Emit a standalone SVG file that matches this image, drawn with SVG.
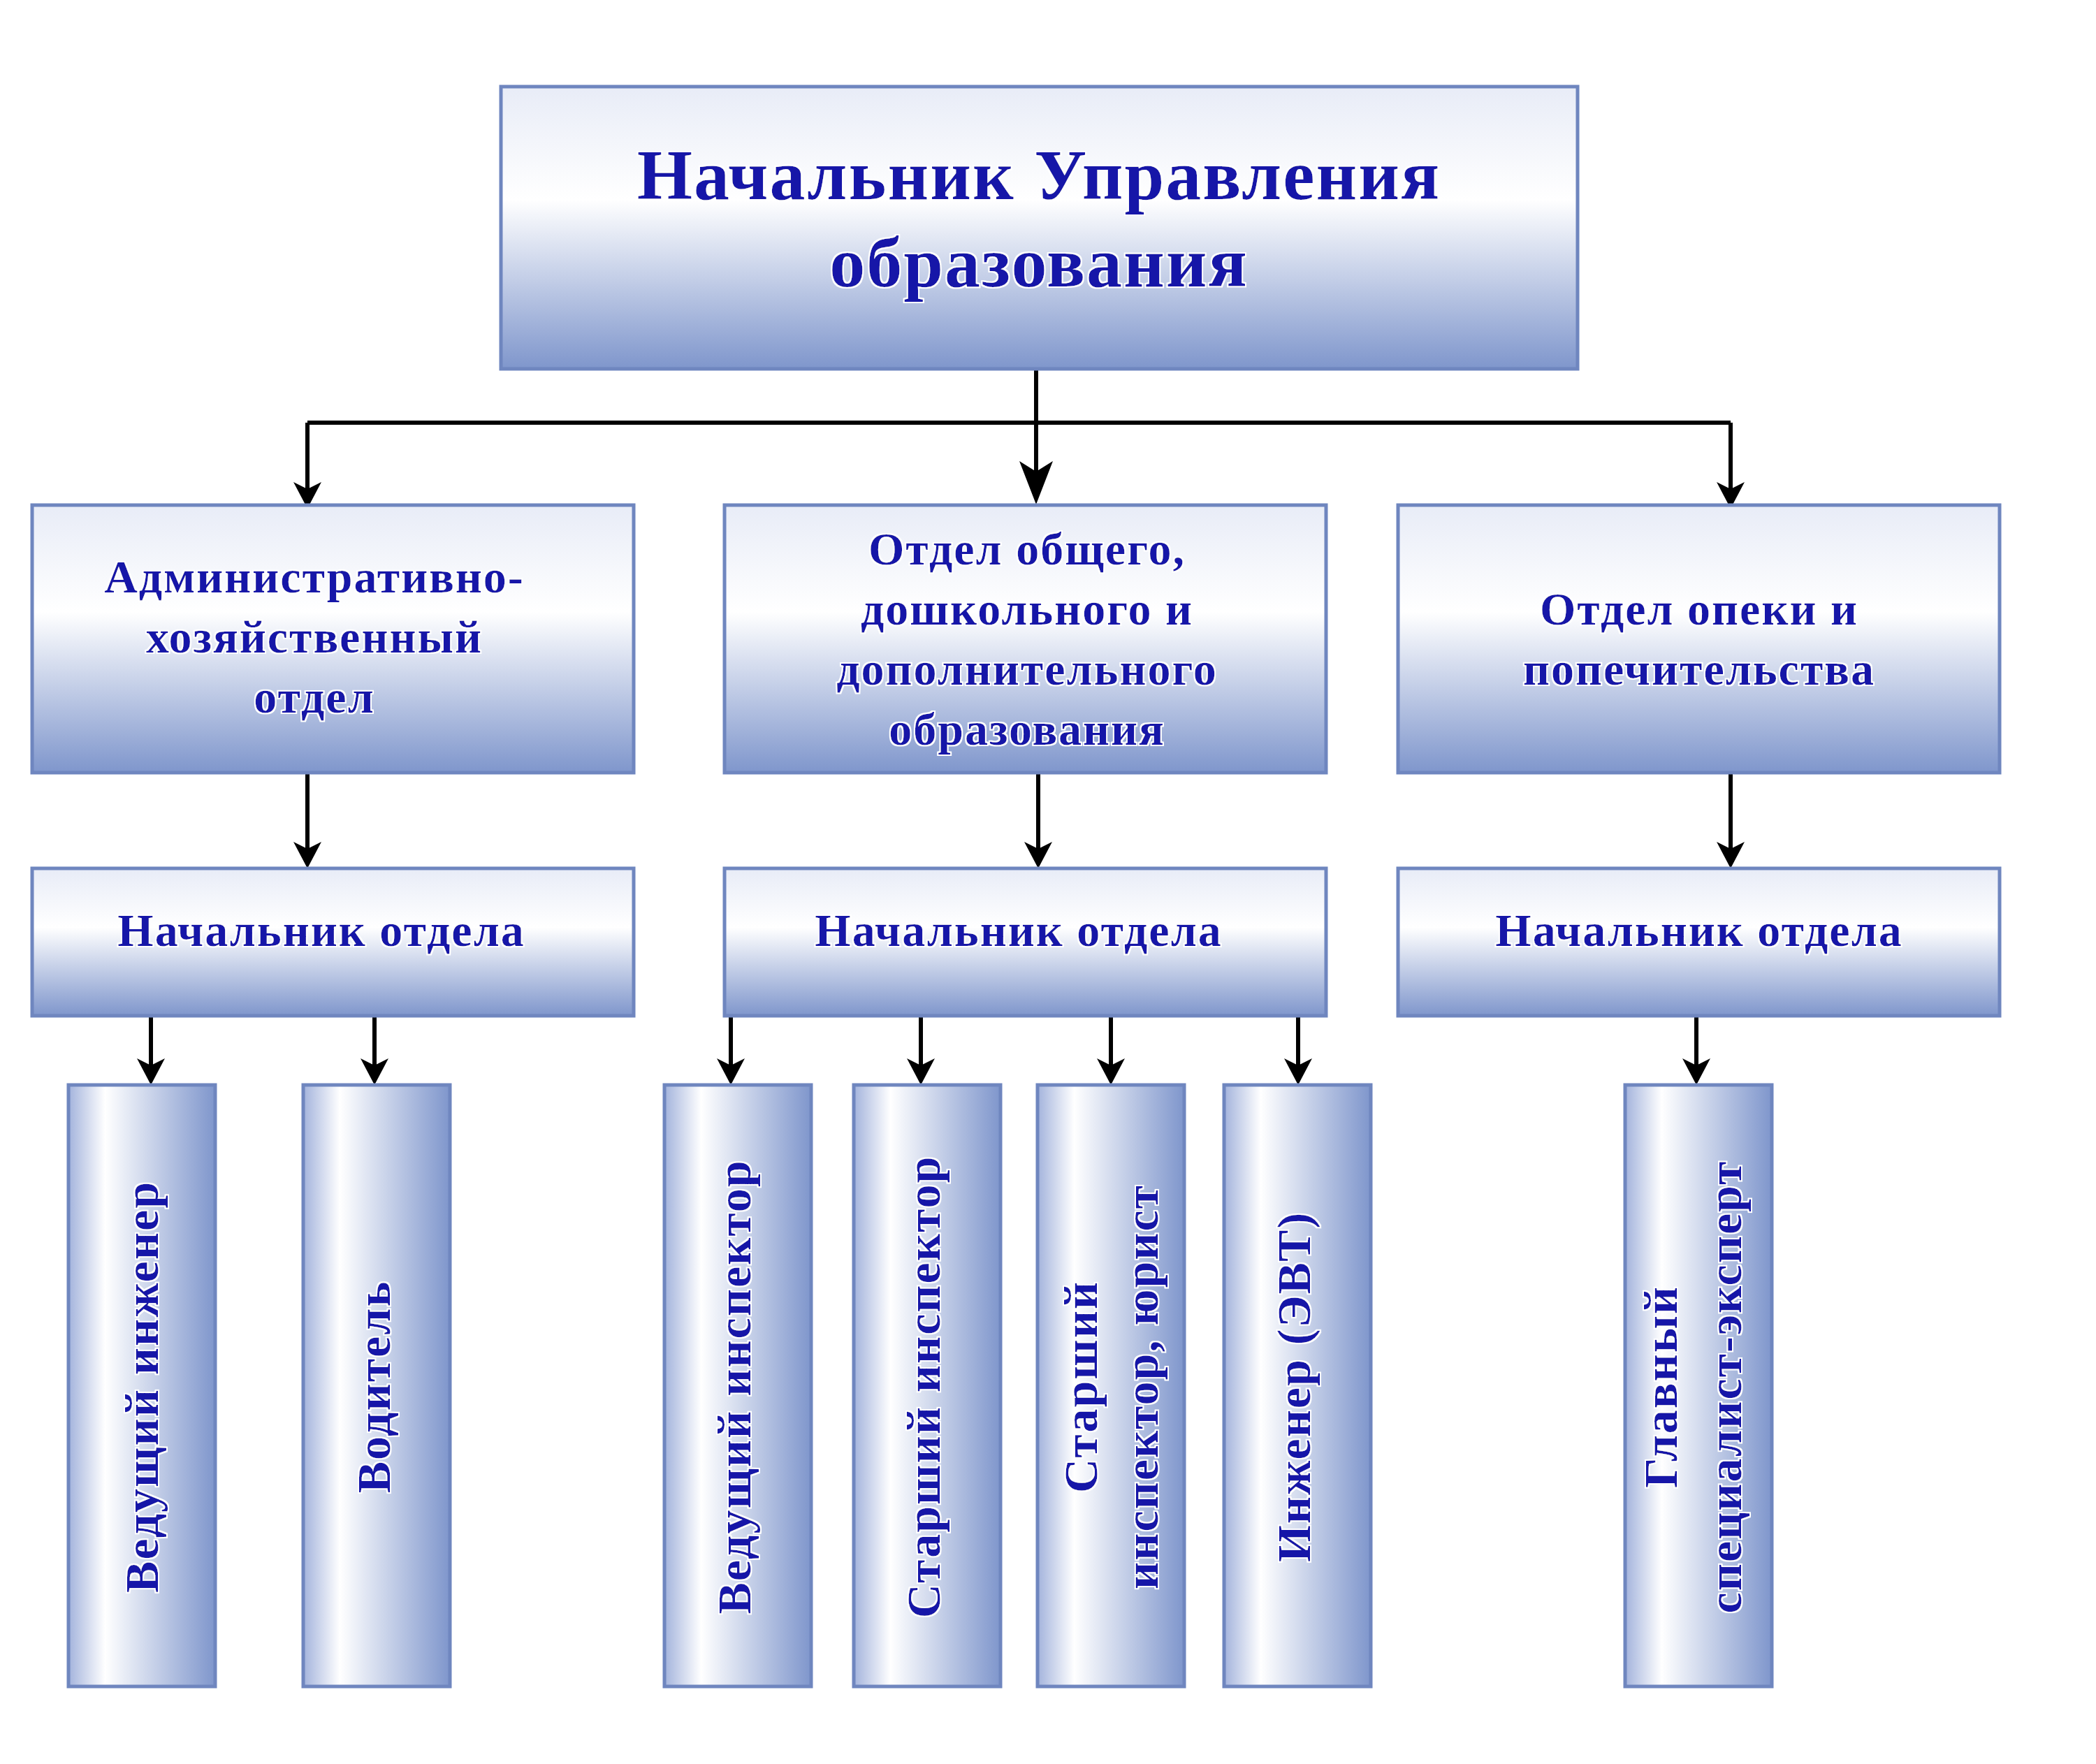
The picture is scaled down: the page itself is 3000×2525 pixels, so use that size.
<svg xmlns="http://www.w3.org/2000/svg" width="3000" height="2525" viewBox="0 0 3000 2525">
<defs>
<linearGradient id="gv" x1="0" y1="0" x2="0" y2="1"><stop offset="0" stop-color="#e8ecf7"/><stop offset="0.4" stop-color="#ffffff"/><stop offset="1" stop-color="#7f96cc"/></linearGradient>
<linearGradient id="gh" x1="0" y1="0" x2="1" y2="0"><stop offset="0" stop-color="#a3b3dc"/><stop offset="0.25" stop-color="#ffffff"/><stop offset="1" stop-color="#7f96cc"/></linearGradient>
<filter id="glow"><feMorphology operator="dilate" radius="2" in="SourceAlpha" result="d"/><feFlood flood-color="#fff"/><feComposite in2="d" operator="in" result="w"/><feMerge><feMergeNode in="w"/><feMergeNode in="SourceGraphic"/></feMerge></filter>
</defs>
<style>
.b{fill:url(#gv);stroke:#6f86bf;stroke-width:5}
.v{fill:url(#gh);stroke:#6f86bf;stroke-width:5}
text{font-family:"Liberation Serif","DejaVu Serif",serif;font-weight:bold;fill:#1515a8;text-anchor:middle;filter:url(#glow);letter-spacing:2px}
.l{stroke:#000;stroke-width:6;fill:none}
.h{fill:#000;stroke:none}
</style>
<rect width="3000" height="2525" fill="#fff"/>
<g id="connectors">
<path class="l" d="M1483 528V680"/>
<path class="l" d="M440 605H2477"/>
<path class="l" d="M440 605V700M2477 605V700"/>
<path class="h" d="M420 690L440 728L460 690L440 700ZM1459 660L1483 722L1507 660L1483 675ZM2457 690L2477 728L2497 690L2477 700Z"/>
<path class="l" d="M440 1106V1215M1486 1106V1215M2477 1106V1215"/>
<path class="h" d="M420 1205L440 1243L460 1205L440 1215ZM1466 1205L1486 1243L1506 1205L1486 1215ZM2457 1205L2477 1243L2497 1205L2477 1215Z"/>
<path class="l" d="M216 1454V1525M536 1454V1525M1046 1454V1525M1318 1454V1525M1590 1454V1525M1858 1454V1525M2428 1454V1525"/>
<path class="h" d="M196 1515L216 1553L236 1515L216 1525ZM516 1515L536 1553L556 1515L536 1525ZM1026 1515L1046 1553L1066 1515L1046 1525ZM1298 1515L1318 1553L1338 1515L1318 1525ZM1570 1515L1590 1553L1610 1515L1590 1525ZM1838 1515L1858 1553L1878 1515L1858 1525ZM2408 1515L2428 1553L2448 1515L2428 1525Z"/>
</g>
<g id="top"><rect class="b" x="717" y="124" width="1541" height="404"/><text x="1487" y="285" font-size="102">Начальник Управления</text><text x="1487" y="410" font-size="102">образования</text></g>
<g id="d1"><rect class="b" x="46" y="723" width="861" height="383"/><text x="450" y="848" font-size="66">Административно-</text><text x="450" y="934" font-size="66">хозяйственный</text><text x="450" y="1020" font-size="66">отдел</text></g>
<g id="d2"><rect class="b" x="1037" y="723" width="861" height="383"/><text x="1470" y="808" font-size="66">Отдел общего,</text><text x="1470" y="894" font-size="66">дошкольного и</text><text x="1470" y="980" font-size="66">дополнительного</text><text x="1470" y="1066" font-size="66">образования</text></g>
<g id="d3"><rect class="b" x="2001" y="723" width="861" height="383"/><text x="2432" y="894" font-size="66">Отдел опеки и</text><text x="2432" y="980" font-size="66">попечительства</text></g>
<g id="h1"><rect class="b" x="46" y="1243" width="861" height="211"/><text x="460" y="1354" font-size="66">Начальник отдела</text></g>
<g id="h2"><rect class="b" x="1037" y="1243" width="861" height="211"/><text x="1458" y="1354" font-size="66">Начальник отдела</text></g>
<g id="h3"><rect class="b" x="2001" y="1243" width="861" height="211"/><text x="2432" y="1354" font-size="66">Начальник отдела</text></g>
<g id="e1"><rect class="v" x="98" y="1553" width="210" height="861"/><text transform="translate(226,1985) rotate(-90)" font-size="68">Ведущий инженер</text></g>
<g id="e2"><rect class="v" x="434" y="1553" width="210" height="861"/><text transform="translate(558,1985) rotate(-90)" font-size="68">Водитель</text></g>
<g id="e3"><rect class="v" x="951" y="1553" width="210" height="861"/><text transform="translate(1074,1985) rotate(-90)" font-size="68">Ведущий инспектор</text></g>
<g id="e4"><rect class="v" x="1222" y="1553" width="210" height="861"/><text transform="translate(1345,1985) rotate(-90)" font-size="68">Старший инспектор</text></g>
<g id="e5"><rect class="v" x="1485" y="1553" width="210" height="861"/><text transform="translate(1570,1985) rotate(-90)" font-size="68">Старший</text><text transform="translate(1657,1985) rotate(-90)" font-size="68">инспектор, юрист</text></g>
<g id="e6"><rect class="v" x="1752" y="1553" width="210" height="861"/><text transform="translate(1875,1985) rotate(-90)" font-size="68">Инженер (ЭВТ)</text></g>
<g id="e7"><rect class="v" x="2326" y="1553" width="210" height="861"/><text transform="translate(2400,1985) rotate(-90)" font-size="68">Главный</text><text transform="translate(2492,1985) rotate(-90)" font-size="68">специалист-эксперт</text></g>
</svg>
